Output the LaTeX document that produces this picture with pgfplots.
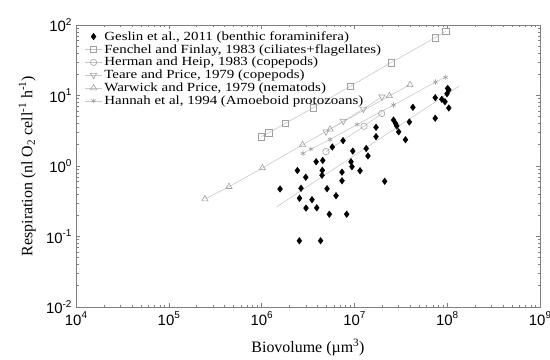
\documentclass[border=0pt]{standalone}
\usepackage{pgfplots}
\pgfplotsset{compat=1.18}
\usepackage{fontspec}
\setmainfont{Liberation Serif}
\newfontfamily\arial{Liberation Sans}
\newfontfamily\legfont[FakeStretch=1.2]{Liberation Serif}
\definecolor{axgray}{RGB}{128,128,128}
\definecolor{lngray}{RGB}{200,200,200}
\definecolor{mkgray}{RGB}{160,160,160}
\newcommand{\tl}[1]{10\raisebox{0.45em}{\fontsize{10}{10}\selectfont #1}}
\begin{document}
\begin{tikzpicture}
\begin{axis}[name=ax, scale only axis, width=464bp, height=282bp,
 xmode=log, ymode=log, xmin=1e4, xmax=1e9, ymin=1e-2, ymax=1e2,
 axis line style={axgray, line width=0.8pt},
 tick style={axgray, line width=0.6pt},
 tick align=inside, major tick length=4bp, minor tick length=2.5bp,
 xtick={1e4,1e5,1e6,1e7,1e8,1e9},
 xticklabels={{\tl{4}},{\tl{5}},{\tl{6}},{\tl{7}},{\tl{8}},{\tl{9}}},
 ytick={1e-2,1e-1,1,1e1,1e2},
 yticklabels={{\tl{-2}},{\tl{-1}},{\tl{0}},{\tl{1}},{\tl{2}}},
 minor xtick={2e4,3e4,4e4,5e4,6e4,7e4,8e4,9e4,2e5,3e5,4e5,5e5,6e5,7e5,8e5,9e5,2e6,3e6,4e6,5e6,6e6,7e6,8e6,9e6,2e7,3e7,4e7,5e7,6e7,7e7,8e7,9e7,2e8,3e8,4e8,5e8,6e8,7e8,8e8,9e8},
 minor ytick={2e-2,3e-2,4e-2,5e-2,6e-2,7e-2,8e-2,9e-2,0.2,0.3,0.4,0.5,0.6,0.7,0.8,0.9,2,3,4,5,6,7,8,9,20,30,40,50,60,70,80,90},
 tick label style={font=\arial\fontsize{15}{17}\selectfont},
 xticklabel style={yshift=-1bp},
 yticklabel style={xshift=-1bp},
 label style={font=\fontsize{16}{18}\selectfont},
 xlabel={Biovolume (µm\textsuperscript{3})},
 ylabel={Respiration (nl O\textsubscript{2} cell\textsuperscript{-1} h\textsuperscript{-1})},
 xlabel style={at={(axis description cs:0.5,-0.163)}, anchor=base},
 ylabel style={at={(axis description cs:-0.094,0.5)}, anchor=base},
 legend style={at={(0.012,0.992)}, anchor=north west, draw=none, fill=none,
   font=\legfont\fontsize{12.5}{13}\selectfont, row sep=-1.3bp, cells={anchor=west}},
 legend cell align=left,
]
\addlegendimage{only marks, mark=diamond*, black, mark size=3.3pt}
\addlegendentry{Geslin et al., 2011 (benthic foraminifera)}

\addplot[lngray, line width=0.6pt, mark=square, mark size=3.2pt, mark options={mkgray, solid}] coordinates {
(9.9e5,2.6) (1.2e6,2.96) (1.8e6,4.03) (3.6e6,6.7) (9.0e6,13.5) (2.48e7,29.2) (7.4e7,66) (9.7e7,82)};
\addlegendentry{Fenchel and Finlay, 1983 (ciliates+flagellates)}

\addplot[lngray, line width=0.6pt, mark=o, mark size=3.2pt, mark options={mkgray, solid}] coordinates {
(4.94e6,1.60) (1.27e7,3.66) (1.97e7,5.56)};
\addlegendentry{Herman and Heip, 1983 (copepods)}

\addplot[lngray, line width=0.6pt, mark=triangle, mark size=3.6pt, mark options={mkgray, solid, rotate=180}] coordinates {
(4.94e6,3.07) (7.59e6,4.32) (1.25e7,6.44) (1.98e7,9.6)};
\addlegendentry{Teare and Price, 1979 (copepods)}

\addplot[lngray, line width=0.6pt, mark=triangle, mark size=3.6pt, mark options={mkgray, solid}] coordinates {
(2.45e5,0.34) (4.45e5,0.508) (1.02e6,0.937) (2.76e6,2.0) (5.46e6,3.32) (2.38e7,9.9) (3.97e7,14.2)};
\addlegendentry{Warwick and Price, 1979 (nematods)}

\addplot[lngray, line width=0.6pt, mark=asterisk, mark size=2.6pt, mark options={mkgray, solid}] coordinates {
(2.79e6,1.51) (3.40e6,1.74) (5.46e6,2.38) (1.07e7,3.88) (2.64e7,7.33) (7.48e7,15.5) (9.6e7,18.1)};
\addlegendentry{Hannah et al, 1994 (Amoeboid protozoans)}

\addplot[lngray, line width=0.6pt, forget plot] coordinates {(1.46e6,0.265) (1.35e8,13.6)};

\addplot[only marks, mark=diamond*, black, mark size=3.3pt, forget plot] coordinates {
(1.58e6,0.472) (2.43e6,0.863) (2.99e6,0.692) (2.66e6,0.483) (2.56e6,0.349)
(3.49e6,0.333) (3.01e6,0.253) (3.93e6,0.255) (3.87e6,1.15) (4.56e6,1.20)
(4.51e6,0.869) (4.48e6,0.738) (5.07e6,0.476) (6.34e6,0.379) (5.37e6,0.207)
(5.78e6,1.86) (7.54e6,2.29) (7.35e6,0.817) (7.35e6,0.618) (8.26e6,0.207)
(2.55e6,0.087) (4.32e6,0.087) (9.60e6,1.63) (9.19e6,1.15) (9.42e6,0.977)
(1.15e7,0.857) (1.34e7,1.77) (1.40e7,1.39) (1.71e7,3.54) (1.71e7,2.61)
(2.12e7,0.607) (2.64e7,4.49) (2.78e7,4.01) (2.86e7,3.69) (3.00e7,3.05)
(3.55e7,2.36) (3.91e7,4.21) (4.27e7,6.81) (7.43e7,9.31) (7.43e7,4.76)
(8.75e7,8.83) (9.46e7,8.16) (1.04e8,6.65) (1.01e8,12.6) (1.04e8,12.0)
(9.95e7,10.6)};
\end{axis}
\pgfresetboundingbox
\path ([shift={(-76bp,-53bp)}]ax.south west) rectangle ([shift={(10bp,25bp)}]ax.north east);
\end{tikzpicture}
\end{document}
